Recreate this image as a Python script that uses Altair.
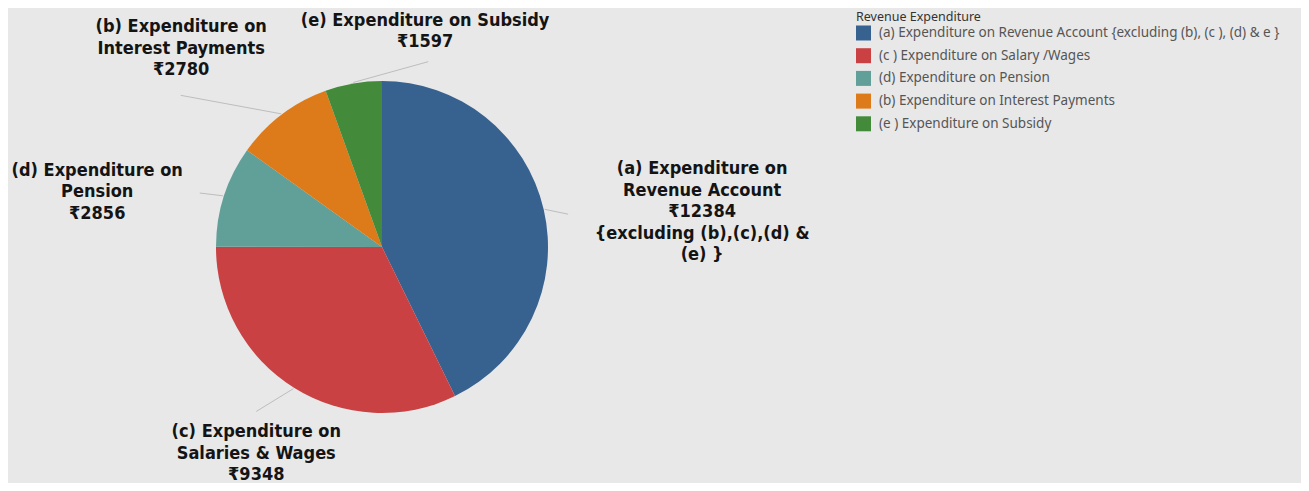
import math
import altair as alt
import pandas as pd

# ---------------- data ----------------
legend_names = [
    "(a) Expenditure on Revenue Account {excluding (b), (c ), (d) & e }",
    "(c ) Expenditure on Salary /Wages",
    "(d) Expenditure on Pension",
    "(b) Expenditure on Interest Payments",
    "(e )  Expenditure on Subsidy",
]
values = [12384, 9348, 2856, 2780, 1597]
label_titles = [
    "(a) Expenditure on\nRevenue Account",
    "(c) Expenditure on\nSalaries & Wages",
    "(d) Expenditure on\nPension",
    "(b) Expenditure on\nInterest Payments",
    "(e) Expenditure on Subsidy",
]
label_suffix = ["\n{excluding (b),(c),(d) &\n(e) }", "", "", "", ""]
colors = ["#37628f", "#c94142", "#60a098", "#dd7a19", "#438b3a"]

# ---------------- layout (not data) ----------------
CX, CY, R = 374, 239, 166
LINE_H = 21.5
# label block centre: (angle deg clockwise from top, distance from centre)
label_polar = [(83.8, 322), (211.3, 242), (280.9, 290), (314.6, 282), (11.3, 220)]
# leader line outer end: (angle deg, distance)
line_end_polar = [(80, 189), (217.4, 207), (286.5, 190), (307, 252), (14, 191)]


def polar(angle_deg, r):
    a = math.radians(angle_deg)
    return CX + r * math.sin(a), CY - r * math.cos(a)


total = sum(values)
rows = []
cum = 0.0
for i, (n, v) in enumerate(zip(legend_names, values)):
    mid = (cum + v / 2) / total * 360
    cum += v
    text = f"{label_titles[i]}\n₹{v}{label_suffix[i]}"
    nlines = text.count("\n") + 1
    lx, ly = polar(*label_polar[i])
    ly -= (nlines - 1) / 2 * LINE_H  # first line position so block is centred
    sx, sy = polar(mid, R + 1)
    ex, ey = polar(*line_end_polar[i])
    rows.append(dict(
        name=n, value=v, ord=i, text=text,
        lx=lx, ly=ly, sx=sx, sy=sy, ex=ex, ey=ey,
    ))
df = pd.DataFrame(rows)

base = alt.Chart(df)

pie = base.mark_arc(outerRadius=R).encode(
    theta=alt.Theta("value:Q", stack=True),
    order=alt.Order("ord:Q"),
    color=alt.Color(
        "name:N",
        sort=legend_names,
        scale=alt.Scale(domain=legend_names, range=colors),
        legend=alt.Legend(
            title="Revenue Expenditure",
            orient="none",
            legendX=848,
            legendY=3,
            symbolType="square",
            symbolSize=225,
            symbolStrokeWidth=0,
            titleFont="Noto Sans",
            titleFontSize=12.5,
            titleFontWeight="normal",
            titleColor="#333333",
            titleBaseline="top",
            titlePadding=2,
            labelFont="Noto Sans",
            labelFontSize=13.5,
            labelColor="#555555",
            labelLimit=600,
            labelOffset=8,
            rowPadding=7.7,
        ),
    ),
    x=alt.value(CX),
    y=alt.value(CY),
)

lines = base.mark_rule(color="#bdbdbd", strokeWidth=1).encode(
    x=alt.X("sx:Q", scale=None),
    y=alt.Y("sy:Q", scale=None),
    x2="ex:Q",
    y2="ey:Q",
)

labels = base.mark_text(
    font="DejaVu Sans Condensed",
    fontWeight="bold",
    fontSize=18,
    lineHeight=LINE_H,
    lineBreak="\n",
    align="center",
    baseline="middle",
    color="#141414",
).encode(
    x=alt.X("lx:Q", scale=None),
    y=alt.Y("ly:Q", scale=None),
    text="text:N",
)

chart = (
    alt.layer(pie, lines, labels)
    .properties(
        width=1293,
        height=475,
        padding=0,
        autosize=alt.AutoSizeParams(type="none"),
        background="#e8e8e8",
    )
    .configure_view(stroke=None)
)

chart.save("out.html", embed_options={"renderer": "svg", "actions": False})
